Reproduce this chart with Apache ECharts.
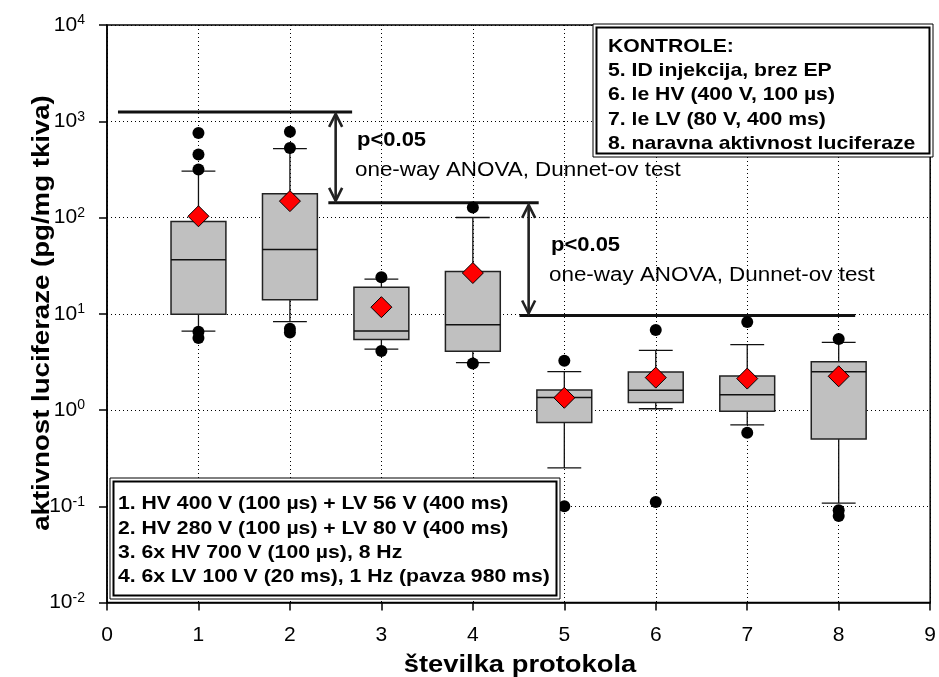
<!DOCTYPE html>
<html><head><meta charset="utf-8">
<script src="https://cdn.jsdelivr.net/npm/echarts@6/dist/echarts.min.js"></script>
<style>html,body{margin:0;padding:0;background:#fff}#chart{width:939px;height:677px}</style>
</head><body><div id="chart"></div>
<script>
// ---- data ----
const categories = [1, 2, 3, 4, 5, 6, 7, 8];
const whiskerLow  = [6.6, 8.3, 4.3, 3.1, 0.25, 1.03, 0.70, 0.108];
const q1          = [9.9, 14.0, 5.4, 4.07, 0.74, 1.20, 0.97, 0.50];
const median      = [36.5, 46.6, 6.6, 7.7, 1.35, 1.60, 1.44, 2.50];
const q3          = [91, 177, 18.9, 27.4, 1.61, 2.48, 2.25, 3.17];
const whiskerHigh = [303, 520, 22.9, 100, 2.50, 4.16, 4.77, 5.04];
const means       = [103, 148, 11.7, 26.5, 1.34, 2.17, 2.12, 2.24];
const outlierX = [1, 1, 1, 1, 1, 2, 2, 2, 2, 3, 3, 4, 4, 5, 5, 6, 6, 7, 7, 8, 8, 8];
const outlierY = [757, 452, 316, 6.5, 5.6, 780, 526, 7.0, 6.4, 24, 4.1, 127, 3.05, 3.25, 0.10, 6.77, 0.111, 8.19, 0.58, 5.46, 0.091, 0.079];
const xTickLabels = ['0', '1', '2', '3', '4', '5', '6', '7', '8', '9'];
const yTickExponents = ['-2', '-1', '0', '1', '2', '3', '4'];
const sigLineX1 = [0.12, 2.42, 4.51];
const sigLineX2 = [2.68, 4.72, 8.18];
const sigLineY  = [1250, 142, 9.6];
const arrowX      = [2.50, 4.61];
const arrowTop    = [1250, 142];
const arrowBottom = [142, 9.6];
const legendLeft = ['1. HV 400 V (100 µs) + LV 56 V (400 ms)', '2. HV 280 V (100 µs) + LV 80 V (400 ms)', '3. 6x HV 700 V (100 µs), 8 Hz', '4. 6x LV 100 V (20 ms), 1 Hz (pavza 980 ms)'];
const legendRight = ['KONTROLE:', '5. ID injekcija, brez EP', '6. le HV (400 V, 100 µs)', '7. le LV (80 V, 400 ms)', '8. naravna aktivnost luciferaze'];
const xTitle = 'številka protokola';
const yTitle = 'aktivnost luciferaze (pg/mg tkiva)';
const pText = 'p<0.05';
const testText = 'one-way ANOVA, Dunnet-ov test';

const FF = '"Liberation Sans", Arial, sans-serif';
const boxData = categories.map((c, i) => [c, whiskerLow[i], q1[i], median[i], q3[i], whiskerHigh[i]]);
const meanData = categories.map((c, i) => [c, means[i]]);
const outData = outlierX.map((x, i) => [x, outlierY[i]]);
const sigData = sigLineY.map((y, i) => [sigLineX1[i], sigLineX2[i], y]);
const arrowData = arrowX.map((x, i) => [x, arrowTop[i], arrowBottom[i]]);

function renderBox(params, api) {
  const x = api.value(0);
  const lo = api.coord([x, api.value(1)]);
  const b1 = api.coord([x, api.value(2)]);
  const md = api.coord([x, api.value(3)]);
  const b3 = api.coord([x, api.value(4)]);
  const hi = api.coord([x, api.value(5)]);
  const cx = md[0];
  const half = api.coord([x + 0.3, api.value(3)])[0] - cx;
  const capHalf = api.coord([x + 0.185, api.value(3)])[0] - cx;
  const st = { stroke: '#111', lineWidth: 1.3 };
  return { type: 'group', children: [
    { type: 'line', shape: { x1: cx, y1: b3[1], x2: cx, y2: hi[1] }, style: st },
    { type: 'line', shape: { x1: cx, y1: b1[1], x2: cx, y2: lo[1] }, style: st },
    { type: 'line', shape: { x1: cx - capHalf, y1: hi[1], x2: cx + capHalf, y2: hi[1] }, style: st },
    { type: 'line', shape: { x1: cx - capHalf, y1: lo[1], x2: cx + capHalf, y2: lo[1] }, style: st },
    { type: 'rect', shape: { x: cx - half, y: b3[1], width: 2 * half, height: b1[1] - b3[1] }, style: { fill: '#c0c0c0', stroke: '#222', lineWidth: 1.5 } },
    { type: 'line', shape: { x1: cx - half, y1: md[1], x2: cx + half, y2: md[1] }, style: { stroke: '#111', lineWidth: 1.5 } }
  ]};
}
function renderSig(params, api) {
  const a = api.coord([api.value(0), api.value(2)]);
  const b = api.coord([api.value(1), api.value(2)]);
  return { type: 'line', shape: { x1: a[0], y1: a[1], x2: b[0], y2: b[1] }, style: { stroke: '#111', lineWidth: 3 } };
}
function renderArrow(params, api) {
  const t = api.coord([api.value(0), api.value(1)]);
  const b = api.coord([api.value(0), api.value(2)]);
  const x = t[0], yt = t[1] + 2, yb = b[1] - 2;
  const st = { stroke: '#222', lineWidth: 2.6, fill: null };
  return { type: 'group', children: [
    { type: 'line', shape: { x1: x, y1: yt, x2: x, y2: yb }, style: st },
    { type: 'polyline', shape: { points: [[x - 6.5, yt + 13], [x, yt], [x + 6.5, yt + 13]] }, style: st },
    { type: 'polyline', shape: { points: [[x - 6.5, yb - 13], [x, yb], [x + 6.5, yb - 13]] }, style: st }
  ]};
}

function txt(x, y, text, font, sx) {
  return { type: 'text', x: x, y: y, scaleX: sx, z: 110,
    style: { text: text, x: 0, y: 0, font: font, fill: '#000', verticalAlign: 'middle', textVerticalAlign: 'middle', align: 'left', textAlign: 'left' } };
}

const graphics = [];
// left legend box
graphics.push({ type: 'rect', z: 100, shape: { x: 110, y: 478, width: 450, height: 121 }, style: { fill: '#fff', stroke: '#000', lineWidth: 1 } });
graphics.push({ type: 'rect', z: 101, shape: { x: 113.5, y: 481.5, width: 443, height: 114 }, style: { fill: '#fff', stroke: '#000', lineWidth: 2 } });
legendLeft.forEach((t, i) => graphics.push(txt(118, 504 + i * 24.3, t, 'bold 19px ' + FF, 1.115)));
// right legend box
graphics.push({ type: 'rect', z: 100, shape: { x: 593, y: 24, width: 340, height: 133 }, style: { fill: '#fff', stroke: '#000', lineWidth: 1 } });
graphics.push({ type: 'rect', z: 101, shape: { x: 596.5, y: 27.5, width: 333, height: 126 }, style: { fill: '#fff', stroke: '#000', lineWidth: 2 } });
legendRight.forEach((t, i) => graphics.push(txt(608, 47 + i * 24.1, t, 'bold 19px ' + FF, 1.115)));
// annotations
graphics.push(txt(357, 140, pText, 'bold 20px ' + FF, 1.1));
graphics.push(txt(355, 170.5, testText, '20px ' + FF, 1.12));
graphics.push(txt(551, 245.5, pText, 'bold 20px ' + FF, 1.1));
graphics.push(txt(549, 275, testText, '20px ' + FF, 1.12));
// axis titles
graphics.push({ type: 'text', x: 520, y: 665, scaleX: 1.14, z: 110,
  style: { text: xTitle, x: 0, y: 0, font: 'bold 24px ' + FF, fill: '#000', align: 'center', textAlign: 'center', verticalAlign: 'middle', textVerticalAlign: 'middle' } });
graphics.push({ type: 'text', x: 42, y: 313, rotation: Math.PI / 2, scaleX: 1.15, z: 110,
  style: { text: yTitle, x: 0, y: 0, font: 'bold 24px ' + FF, fill: '#000', align: 'center', textAlign: 'center', verticalAlign: 'middle', textVerticalAlign: 'middle' } });

const chart = echarts.init(document.getElementById('chart'), null, { renderer: 'canvas' });
chart.setOption({
  backgroundColor: '#fff',
  animation: false,
  grid: { left: 107, right: 6, top: 25, bottom: 74.5, containLabel: false, show: true, borderColor: '#000', borderWidth: 1.5, backgroundColor: 'transparent' },
  xAxis: {
    type: 'value', min: 0, max: 9, interval: 1,
    axisLine: { show: true, lineStyle: { color: '#000', width: 1.5 } },
    axisTick: { show: true, inside: false, length: 8, lineStyle: { color: '#000', width: 1.5 } },
    axisLabel: { color: '#000', fontSize: 21, fontFamily: FF, margin: 22, formatter: v => xTickLabels[Math.round(v)] },
    splitLine: { show: true, lineStyle: { color: '#000', width: 1, type: [1, 3] } }
  },
  yAxis: {
    type: 'log', logBase: 10, min: 0.01, max: 10000, splitNumber: 6,
    axisLine: { show: true, lineStyle: { color: '#000', width: 1.5 } },
    axisTick: { show: true, inside: false, length: 8, lineStyle: { color: '#000', width: 1.5 } },
    minorTick: { show: false },
    axisLabel: {
      color: '#000', margin: 22, fontFamily: FF,
      formatter: v => '{b|10}{s|' + yTickExponents[Math.round(Math.log10(v)) + 2] + '}',
      rich: { b: { fontSize: 21, fontFamily: FF, color: '#000', lineHeight: 23 }, s: { fontSize: 14, fontFamily: FF, color: '#000', verticalAlign: 'top', lineHeight: 23, padding: [0, 0, 11, 0] } }
    },
    splitLine: { show: true, lineStyle: { color: '#000', width: 1, type: [1, 3] } }
  },
  graphic: graphics,
  series: [
    { type: 'custom', name: 'box', renderItem: renderBox, data: boxData, encode: { x: 0, y: [1, 2, 3, 4, 5] }, z: 3 },
    { type: 'custom', name: 'sig', renderItem: renderSig, data: sigData, encode: { x: [0, 1], y: 2 }, z: 4 },
    { type: 'custom', name: 'arrows', renderItem: renderArrow, data: arrowData, encode: { x: 0, y: [1, 2] }, z: 4 },
    { type: 'scatter', name: 'outliers', data: outData, symbol: 'circle', symbolSize: 12, itemStyle: { color: '#000', opacity: 1 }, z: 5 },
    { type: 'scatter', name: 'mean', data: meanData, symbol: 'diamond', symbolSize: 21, itemStyle: { color: '#ff0000', borderColor: '#000', borderWidth: 1, opacity: 1 }, z: 6 }
  ]
});
</script></body></html>
